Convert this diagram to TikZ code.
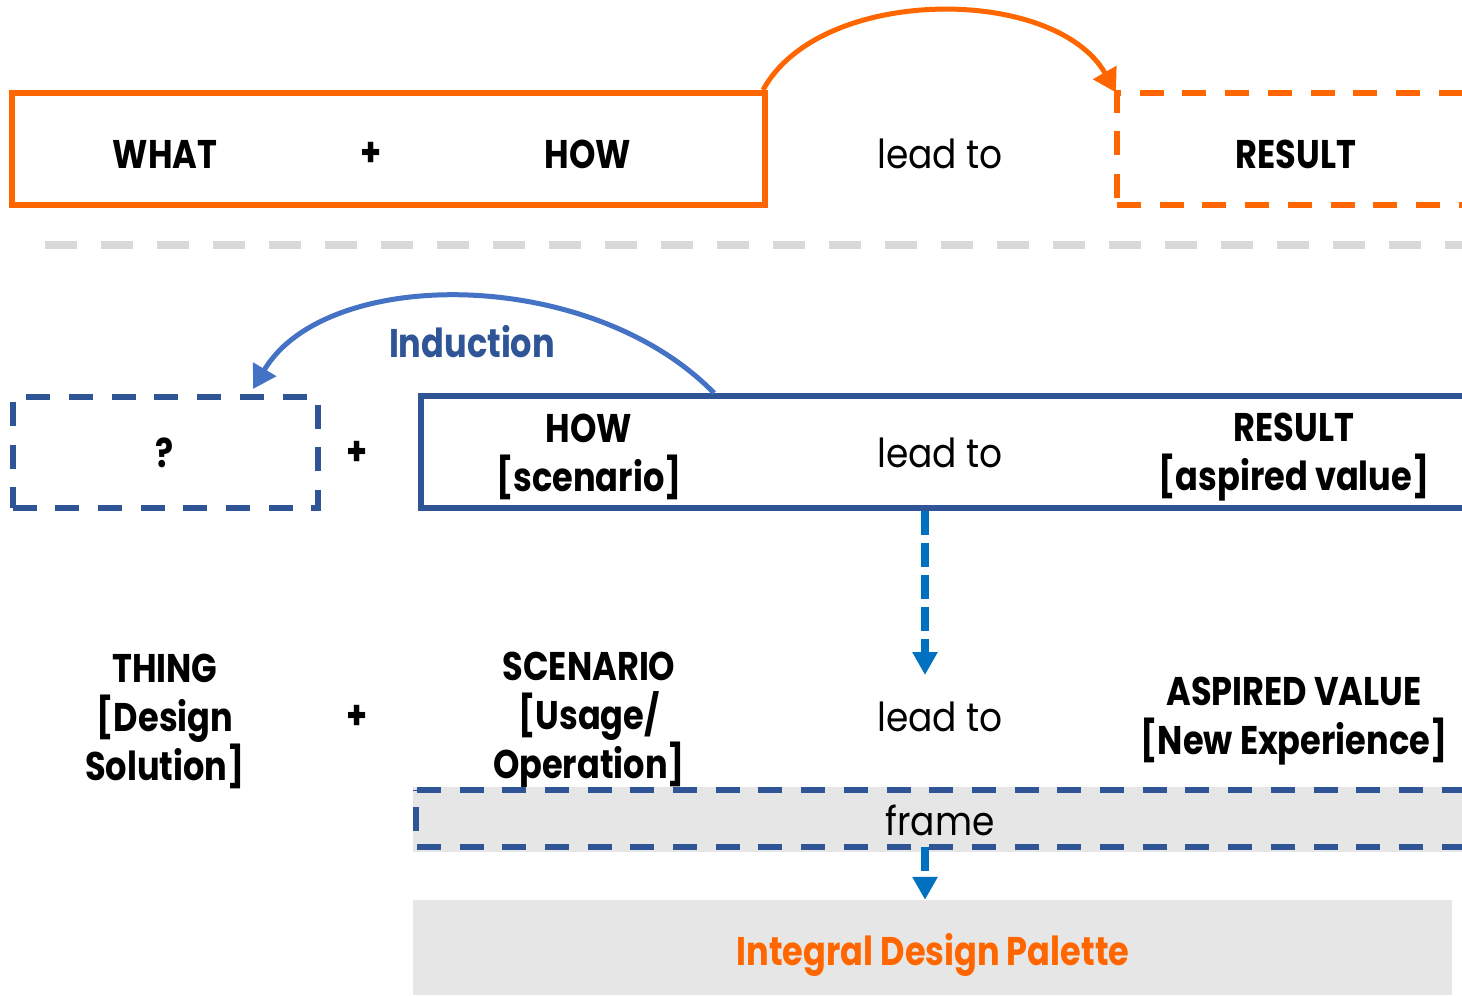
\documentclass[tikz,border=0pt]{standalone}
\usepackage{fontspec}
\setmainfont{Poppins}
\newfontfamily\labfont{Poppins}[FakeStretch=0.84]
\newfontfamily\plainfont{Poppins}[FakeStretch=0.9]
\usetikzlibrary{arrows.meta}
\definecolor{orng}{HTML}{FF6600}
\definecolor{navy}{HTML}{2F5597}
\definecolor{midblue}{HTML}{4472C4}
\definecolor{flowblue}{HTML}{0070C0}
\definecolor{rule}{HTML}{D9D9D9}
\definecolor{panel}{HTML}{E6E6E6}
\begin{document}
\begin{tikzpicture}[x=1pt,y=-1pt,
  boldlab/.style={font=\labfont\bfseries\fontsize{40}{49}\selectfont, align=center, inner sep=0pt},
  plainlab/.style={font=\plainfont\fontsize{40}{49}\selectfont, inner sep=0pt},
  solidbox/.style={draw=#1, line width=6pt, inner sep=0pt},
  dashbox/.style={draw=#1, line width=6pt, inner sep=0pt, dash pattern=on 24pt off 18.7pt},
  arcarrow/.style={draw=#1, line width=5pt, -{Triangle[width=26pt,length=23pt]}},
  flowarrow/.style={draw=flowblue, line width=8pt, dash pattern=on 24pt off 8pt,
    -{Triangle[width=24pt,length=23pt]}},
]
\useasboundingbox (0,0) rectangle (1462,996);
\begin{scope}
\clip (0,0) rectangle (1462,996);

% upper row: WHAT + HOW lead to RESULT
\node[solidbox=orng, minimum width=753pt, minimum height=112pt] (wh) at (388.5,149) {};
\node[dashbox=orng, minimum width=373pt, minimum height=112pt] (res) at (1303.5,148.5) {};
\node[boldlab] (what) at (165,154) {WHAT};
\node[boldlab] (plus1) at (371,154) {+};
\node[boldlab] (how1) at (588,154) {HOW};
\node[plainlab] (lead1) at (940,154) {lead to};
\node[boldlab] (result1) at (1296,154) {RESULT};
\draw[arcarrow=orng] ([xshift=-5pt]wh.north east)
  .. controls (820,-15) and (1055,-15) .. ([xshift=2pt,yshift=-3pt]res.north west);

% separator
\coordinate (sepL) at (45,245);
\coordinate (sepR) at (1475,245);
\draw[rule, line width=8pt, dash pattern=on 32pt off 24pt] (sepL) -- (sepR);

% middle row: ? + HOW lead to RESULT
\node[dashbox=navy, minimum width=305pt, minimum height=111pt] (q) at (165,452.5) {};
\node[solidbox=navy, minimum width=1069pt, minimum height=112pt] (scen) at (955.5,452) {};
\node[boldlab] (qmark) at (165,453) {?};
\node[boldlab] (plus2) at (357,453) {+};
\node[boldlab] (how2) at (589,457) {HOW\\{}[scenario]};
\node[plainlab] (lead2) at (940,453) {lead to};
\node[boldlab] (result2) at (1294,457) {RESULT\\{}[aspired value]};
\node[boldlab, text=navy] (ind) at (472,342) {Induction};
\draw[arcarrow=midblue] ([xshift=296pt]scen.north west)
  .. controls (590,266) and (326,266) .. ([xshift=88pt,yshift=5pt]q.north);

% lower row
\node[boldlab] (thing) at (165,721) {THING\\{}[Design\\Solution]};
\node[boldlab] (plus3) at (357,717) {+};
\node[boldlab] (scenario) at (589,721) {SCENARIO\\{}[Usage/\\Operation]};
\node[plainlab] (lead3) at (940,717) {lead to};
\node[boldlab] (aspired) at (1294,721) {ASPIRED VALUE\\{}[New Experience]};
\coordinate (dropEnd) at (925,675);
\draw[flowarrow] ([xshift=-30.5pt]scen.south) -- (dropEnd);

% frame band and palette
\node[fill=panel, minimum width=1060pt, minimum height=65pt, inner sep=0pt] (frm) at (943,819.5) {};
\draw[navy, line width=6pt, dash pattern=on 24pt off 18.7pt]
  ([xshift=4pt,yshift=-3.5pt]frm.north west) -- ([yshift=-3.5pt]frm.north east);
\draw[navy, line width=6pt, dash pattern=on 24pt off 18.7pt]
  ([xshift=4pt,yshift=5pt]frm.south west) -- ([yshift=5pt]frm.south east);
\draw[navy, line width=6pt, dash pattern=on 24pt off 16pt, dash phase=-17pt]
  ([xshift=3pt,yshift=-3.5pt]frm.north west) -- ([xshift=3pt,yshift=5pt]frm.south west);
\node[plainlab] (frmlab) at (940,820) {frame};
\node[fill=panel, minimum width=1039pt, minimum height=95pt, inner sep=0pt] (pal) at (932.5,947.5) {};
\node[boldlab, text=orng] (pallab) at (933,955) {Integral Design Palette};
\draw[flowarrow] ([xshift=-18pt,yshift=5pt]frm.south) -- ([xshift=-7.5pt]pal.north);
\end{scope}
\end{tikzpicture}
\end{document}
